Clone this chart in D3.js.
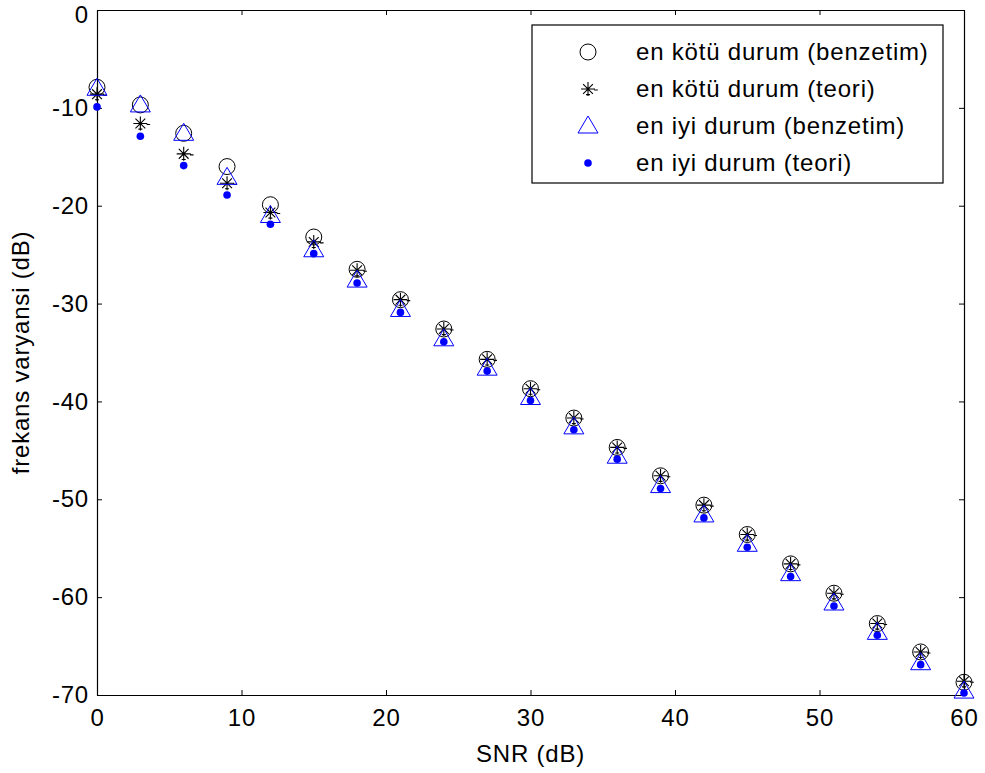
<!DOCTYPE html>
<html>
<head>
<meta charset="utf-8">
<script src="https://cdn.jsdelivr.net/npm/d3@7"></script>
<style>
  body { margin: 0; background: #fff; }
  text { font-family: "Liberation Sans", Arial, sans-serif; letter-spacing: 0.8px; }
</style>
</head>
<body>
<div id="chart"></div>
<script>
// chart size and plot box
const width = 985;
const height = 773;
const margin = {left: 97, right: 21, top: 10, bottom: 78};

// data
const snr = [0, 3, 6, 9, 12, 15, 18, 21, 24, 27, 30, 33, 36, 39, 42, 45, 48, 51, 54, 57, 60];
const worstSim = [-7.9, -9.7, -12.6, -16.0, -19.9, -23.2, -26.5, -29.6, -32.6, -35.7, -38.7, -41.7, -44.7, -47.6, -50.6, -53.6, -56.6, -59.6, -62.7, -65.6, -68.7];
const worstTheory = [-8.6, -11.6, -14.7, -17.7, -20.7, -23.7, -26.6, -29.6, -32.6, -35.7, -38.7, -41.7, -44.7, -47.6, -50.6, -53.6, -56.6, -59.6, -62.7, -65.6, -68.6];
const bestSim = [-8.0, -9.7, -12.6, -17.1, -21.0, -24.5, -27.6, -30.6, -33.6, -36.6, -39.6, -42.6, -45.6, -48.6, -51.6, -54.6, -57.6, -60.6, -63.6, -66.7, -69.6];
const bestTheory = [-9.9, -12.9, -15.9, -18.9, -21.9, -24.9, -27.9, -30.9, -33.9, -36.9, -39.9, -42.9, -45.9, -48.9, -51.9, -54.9, -57.9, -60.9, -63.9, -66.9, -69.8];

const xTicks = [0, 10, 20, 30, 40, 50, 60];
const yTicks = [0, -10, -20, -30, -40, -50, -60, -70];
const legendNames = ["en kötü durum (benzetim)", "en kötü durum (teori)", "en iyi durum (benzetim)", "en iyi durum (teori)"];

const fontSize = "24px";

const svg = d3.select("#chart")
  .append("svg")
  .attr("width", width)
  .attr("height", height);

const x = d3.scaleLinear().domain([0, 60]).range([margin.left, width - margin.right]);
const y = d3.scaleLinear().domain([-70, 0]).range([height - margin.bottom, margin.top]);

// axes, ticks inside on all sides, plain hyphen for negatives
svg.append("g")
  .attr("transform", `translate(0,${height - margin.bottom})`)
  .call(d3.axisBottom(x).tickValues(xTicks).tickSizeInner(-5).tickSizeOuter(0).tickPadding(14).tickFormat(d => String(d)))
  .attr("font-size", fontSize);

svg.append("g")
  .attr("transform", `translate(${margin.left},0)`)
  .call(d3.axisLeft(y).tickValues(yTicks).tickSizeInner(-5).tickSizeOuter(0).tickPadding(8).tickFormat(d => String(d)))
  .attr("font-size", fontSize)
  .call(g => g.selectAll(".tick text").filter(d => d === 0).attr("dy", "0.5em"));

svg.append("g")
  .attr("transform", `translate(0,${margin.top})`)
  .call(d3.axisTop(x).tickValues(xTicks).tickSizeInner(-5).tickSizeOuter(0).tickFormat(""));

svg.append("g")
  .attr("transform", `translate(${width - margin.right},0)`)
  .call(d3.axisRight(y).tickValues(yTicks).tickSizeInner(-5).tickSizeOuter(0).tickFormat(""));

svg.selectAll(".domain").attr("stroke", "#000").attr("stroke-width", 1.2);
svg.selectAll(".tick text").attr("fill", "#000");

// axis labels
svg.append("text")
  .attr("x", (margin.left + width - margin.right) / 2)
  .attr("y", 762)
  .attr("text-anchor", "middle")
  .attr("font-size", fontSize)
  .text("SNR (dB)");

svg.append("text")
  .attr("transform", `translate(29,${(margin.top + height - margin.bottom) / 2}) rotate(-90)`)
  .attr("text-anchor", "middle")
  .attr("font-size", fontSize)
  .text("frekans varyansi (dB)");

// marker drawing helpers
function circleMark(g) {
  g.append("circle").attr("r", 8).attr("fill", "none").attr("stroke", "#000").attr("stroke-width", 1);
}
function starMark(g) {
  const s = 7;
  g.append("path")
    .attr("d", `M0,${-s}V${s}M${-s},0H${s}M${-s*0.7},${-s*0.7}L${s*0.7},${s*0.7}M${-s*0.7},${s*0.7}L${s*0.7},${-s*0.7}M${s*0.9},1H${s*1.4}M-2,${s*0.8}H2`)
    .attr("fill", "none").attr("stroke", "#000").attr("stroke-width", 1.1);
}
function triMark(g) {
  g.append("path").attr("d", "M0,-10L10,7L-10,7Z")
    .attr("fill", "none").attr("stroke", "#0000ff").attr("stroke-width", 1);
}
function dotMark(g) {
  g.append("circle").attr("r", 3.8).attr("fill", "#0000ff");
}

const series = [
  {vals: worstSim, draw: circleMark},
  {vals: worstTheory, draw: starMark},
  {vals: bestSim, draw: triMark},
  {vals: bestTheory, draw: dotMark}
];

series.forEach(s => {
  svg.append("g").selectAll("g")
    .data(snr)
    .enter()
    .append("g")
      .attr("transform", (d, i) => `translate(${x(d)},${y(s.vals[i])})`)
      .each(function() { s.draw(d3.select(this)); });
});

// legend
const legend = svg.append("g").attr("transform", "translate(532,25)");
legend.append("rect")
  .attr("width", 411).attr("height", 158)
  .attr("fill", "#fff").attr("stroke", "#000").attr("stroke-width", 1.2);

legendNames.forEach((name, i) => {
  const row = legend.append("g").attr("transform", `translate(0,${27 + i * 37})`);
  const m = row.append("g").attr("transform", "translate(56,0)");
  series[i].draw(m);
  row.append("text")
    .attr("x", 104).attr("y", 8)
    .attr("font-size", fontSize)
    .text(name);
});
</script>
</body>
</html>
